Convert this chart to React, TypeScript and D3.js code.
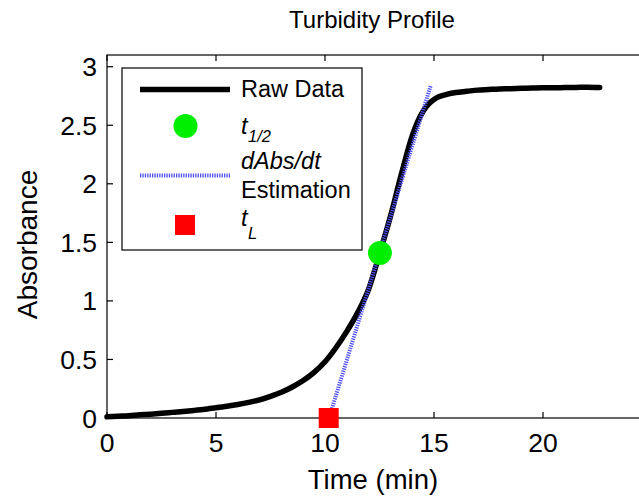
import React from "react";
import * as d3 from "d3";

// Raw turbidity data (time in min, absorbance)
const rawTime = [0, 0.5, 1, 1.5, 2, 2.5, 3, 3.5, 4, 4.5, 5, 5.5, 6, 6.5, 7, 7.5, 8, 8.5, 9, 9.5, 10, 10.5, 11, 11.5, 12, 12.5, 13, 13.5, 14, 14.5, 14.75, 15, 15.25, 15.5, 16, 16.5, 17, 17.5, 18, 18.5, 19, 19.5, 20, 20.5, 21, 21.5, 22, 22.6];
const rawAbs = [0.01, 0.015, 0.02, 0.027, 0.033, 0.04, 0.048, 0.056, 0.065, 0.075, 0.087, 0.1, 0.115, 0.133, 0.155, 0.185, 0.22, 0.265, 0.32, 0.39, 0.48, 0.6, 0.74, 0.9, 1.1, 1.4, 1.72, 2.08, 2.41, 2.62, 2.68, 2.72, 2.745, 2.76, 2.78, 2.79, 2.8, 2.805, 2.81, 2.812, 2.815, 2.818, 2.82, 2.82, 2.822, 2.823, 2.825, 2.823];

// t1/2 point
const tHalf = [12.52];
const absHalf = [1.41];
// tL point
const tLag = [10.17];
const absLag = [0];
// dAbs/dt estimation line endpoints
const tangentTime = [10.32, 14.85];
const tangentAbs = [0.08, 2.84];

const xTicks = [0, 5, 10, 15, 20];
const yTicks = [0, 0.5, 1, 1.5, 2, 2.5, 3];
const yTickLabels = ["0", "0.5", "1", "1.5", "2", "2.5", "3"];

const W = 639;
const H = 499;
const left = 107;
const top = 55;
const bottom = 418;
const right = left + 25 * 21.8;

const font = "'Liberation Sans', Arial, Helvetica, sans-serif";

export default function App() {
  const x = d3.scaleLinear().domain([0, 25]).range([left, right]);
  const y = d3.scaleLinear().domain([0, 3.1]).range([bottom, top]);

  const rawLine = d3
    .line<number>()
    .x((_, i) => x(rawTime[i]))
    .y((d) => y(d))
    .curve(d3.curveMonotoneX)(rawAbs) as string;

  const tanLine = d3
    .line<number>()
    .x((_, i) => x(tangentTime[i]))
    .y((d) => y(d))(tangentAbs) as string;

  const tick = 6;
  const dotted = "#4f4ff5";

  return (
    <div style={{ position: "fixed", left: 0, top: 0 }}>
      <svg width={W} height={H} style={{ display: "block", background: "#fff" }}>
        <rect x={0} y={0} width={W} height={H} fill="#fff" />
        {/* title */}
        <text x={372} y={28} textAnchor="middle" fontFamily={font} fontSize={24} fill="#000">
          Turbidity Profile
        </text>
        {/* axes box */}
        <rect x={left} y={top} width={right - left} height={bottom - top} fill="none" stroke="#000" strokeWidth={1.2} />
        {/* x ticks */}
        {xTicks.map((t) => (
          <g key={"xt" + t}>
            <line x1={x(t)} x2={x(t)} y1={bottom} y2={bottom - tick} stroke="#000" strokeWidth={1.2} />
            <line x1={x(t)} x2={x(t)} y1={top} y2={top + tick} stroke="#000" strokeWidth={1.2} />
            <text x={x(t)} y={bottom + 34} textAnchor="middle" fontFamily={font} fontSize={26.5} fill="#000">
              {t}
            </text>
          </g>
        ))}
        {/* y ticks */}
        {yTicks.map((v, i) => (
          <g key={"yt" + v}>
            <line x1={left} x2={left + tick} y1={y(v)} y2={y(v)} stroke="#000" strokeWidth={1.2} />
            <text x={97} y={y(v) + 9.5} textAnchor="end" fontFamily={font} fontSize={26.5} fill="#000">
              {yTickLabels[i]}
            </text>
          </g>
        ))}
        {/* axis labels */}
        <text x={373} y={489} textAnchor="middle" fontFamily={font} fontSize={27.5} fill="#000">
          Time (min)
        </text>
        <text
          transform={`translate(37,${(top + bottom) / 2 + 8}) rotate(-90)`}
          textAnchor="middle"
          fontFamily={font}
          fontSize={28}
          fill="#000"
        >
          Absorbance
        </text>

        {/* raw data */}
        <path d={rawLine} fill="none" stroke="#000" strokeWidth={5.5} strokeLinejoin="round" strokeLinecap="round" />
        {/* tangent */}
        <path d={tanLine} fill="none" stroke={dotted} strokeWidth={4} strokeDasharray="1.3 1.1" />
        {/* t1/2 */}
        {tHalf.map((t, i) => (
          <circle key={"h" + i} cx={x(t)} cy={y(absHalf[i])} r={12} fill="#00ee00" />
        ))}
        {/* tL */}
        {tLag.map((t, i) => (
          <rect key={"l" + i} x={x(t) - 10} y={y(absLag[i]) - 10} width={20} height={20} fill="#ff0000" />
        ))}

        {/* legend */}
        <g>
          <rect x={122} y={68} width={240} height={182} fill="#fff" stroke="#000" strokeWidth={1.2} />
          <line x1={140} x2={230} y1={89.5} y2={89.5} stroke="#000" strokeWidth={5.5} />
          <text x={241} y={97} fontFamily={font} fontSize={23.5} fill="#000">
            Raw Data
          </text>
          <circle cx={185.5} cy={126} r={12} fill="#00ee00" />
          <text x={241} y={134} fontFamily={font} fontSize={23.5} fontStyle="italic" fill="#000">
            t
          </text>
          <text x={248} y={142} fontFamily={font} fontSize={16.5} fontStyle="italic" fill="#000">
            1/2
          </text>
          <line x1={140} x2={230} y1={175.5} y2={175.5} stroke={dotted} strokeWidth={4} strokeDasharray="1.3 1.1" />
          <text x={241} y={169} fontFamily={font} fontSize={23.5} fontStyle="italic" fill="#000">
            dAbs/dt
          </text>
          <text x={241} y={198} fontFamily={font} fontSize={23.5} fill="#000">
            Estimation
          </text>
          <rect x={175} y={215} width={20} height={20} fill="#ff0000" />
          <text x={241} y={226} fontFamily={font} fontSize={23.5} fontStyle="italic" fill="#000">
            t
          </text>
          <text x={248} y={239} fontFamily={font} fontSize={16.5} fontStyle="italic" fill="#000">
            L
          </text>
        </g>
      </svg>
    </div>
  );
}
